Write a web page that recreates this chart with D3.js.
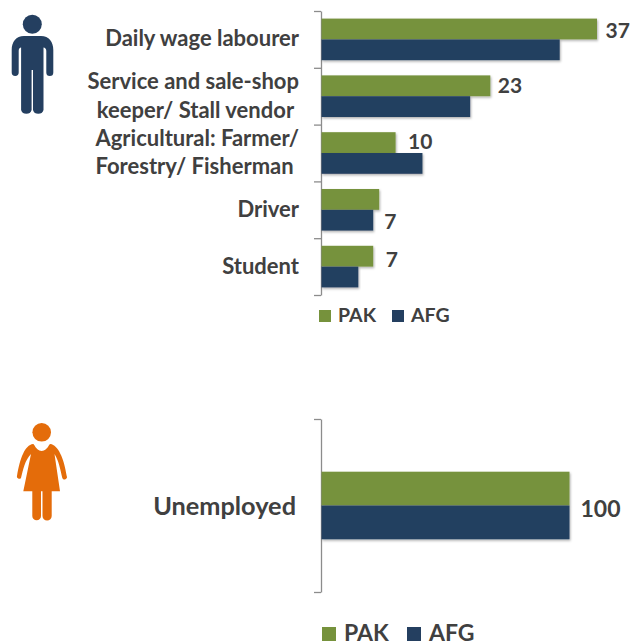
<!DOCTYPE html>
<html>
<head>
<meta charset="utf-8">
<script src="https://cdn.jsdelivr.net/npm/d3@7"></script>
<style>
  html, body { margin: 0; padding: 0; background: #fff; overflow: hidden; }
  text { font-family: Lato, "Open Sans", sans-serif; font-weight: 700; fill: #404040; }
</style>
</head>
<body>
<div id="container"></div>
<script>
/* DATA */
const seriesNames = ["PAK", "AFG"];
const maleLabels = [
  ["Daily wage labourer"],
  ["Service and sale-shop", "keeper/ Stall vendor "],
  ["Agricultural: Farmer/", "Forestry/ Fisherman "],
  ["Driver"],
  ["Student"]
];
const malePak = [37, 22.7, 10, 7.8, 7];
const maleAfg = [32, 20, 13.6, 7, 5];
const maleShown = ["37", "23", "10", "7", "7"];
const maleShownSeries = ["PAK", "PAK", "PAK", "AFG", "PAK"];
const femaleLabels = [["Unemployed"]];
const femalePak = [100];
const femaleAfg = [100];
const femaleShown = ["100"];
const femaleShownSeries = ["AFG"];

const colors = {PAK: "#76923c", AFG: "#243f60"};
const width = 630, height = 641;

const svg = d3.select("#container")
  .append("svg")
  .attr("width", width)
  .attr("height", height)
  .style("display", "block");

const shadow = svg.append("defs").append("filter")
  .attr("id", "shadow")
  .attr("x", "-5%").attr("y", "-20%")
  .attr("width", "110%").attr("height", "150%");
shadow.append("feDropShadow")
  .attr("dx", 1).attr("dy", 1.5)
  .attr("stdDeviation", 1.2)
  .attr("flood-color", "#000")
  .attr("flood-opacity", 0.3);

/* one panel: axis + bars + labels + legend */
function drawPanel(cfg) {
  const y = d3.scaleBand()
    .domain(cfg.labels.map((d, i) => i))
    .range(cfg.yRange);
  const x = d3.scaleLinear()
    .domain([0, cfg.xMax])
    .range(cfg.xRange);
  const inner = d3.scaleBand()
    .domain(seriesNames)
    .range([0, y.bandwidth()])
    .paddingOuter(cfg.outerPad)
    .paddingInner(0);

  const rows = cfg.labels.map((lines, i) => ({
    i, lines, PAK: cfg.pak[i], AFG: cfg.afg[i],
    shown: cfg.shown[i], shownSeries: cfg.shownSeries[i]
  }));

  // axis, ticks sit between the categories
  const edges = d3.scaleLinear().domain([0, rows.length]).range(cfg.yRange);
  const axis = svg.append("g")
    .attr("transform", "translate(" + cfg.xRange[0] + ",0)")
    .call(d3.axisLeft(edges).ticks(rows.length).tickSizeOuter(0).tickSizeInner(7).tickFormat(""));
  axis.selectAll("line, path").attr("stroke", "#8c8c8c").attr("stroke-width", 1.3);

  const row = svg.selectAll(null)
    .data(rows)
    .enter()
    .append("g")
    .attr("transform", d => "translate(0," + y(d.i) + ")");

  seriesNames.forEach(s => {
    row.append("rect")
      .attr("x", cfg.xRange[0] + 0.5)
      .attr("y", inner(s))
      .attr("width", d => x(d[s]) - cfg.xRange[0] - 0.5)
      .attr("height", inner.bandwidth())
      .attr("fill", colors[s])
      .attr("filter", "url(#shadow)");
  });

  row.append("text")
    .attr("x", d => x(d[d.shownSeries]) + cfg.labelGap[d.i])
    .attr("y", d => inner(d.shownSeries) + inner.bandwidth() / 2 + cfg.labelDy[d.i])
    .attr("font-size", cfg.valueSize)
    .text(d => d.shown);

  // category names, right aligned against the axis
  row.each(function(d) {
    const t = d3.select(this).append("text")
      .attr("text-anchor", "end")
      .attr("font-size", cfg.catSize)
      .attr("y", y.bandwidth() / 2 + cfg.catDy);
    d.lines.forEach((line, k) => {
      t.append("tspan")
        .attr("x", cfg.catX)
        .attr("xml:space", "preserve")
        .attr("dy", k == 0 ? (d.lines.length - 1) * -cfg.catLine / 2 : cfg.catLine)
        .text(line);
    });
  });

  // legend
  const lg = svg.append("g")
    .attr("transform", "translate(" + cfg.legendX + "," + cfg.legendY + ")");
  const step = d3.scalePoint().domain(seriesNames).range([0, cfg.legendStep]);
  seriesNames.forEach(s => {
    lg.append("rect")
      .attr("x", step(s))
      .attr("y", 0)
      .attr("width", cfg.legendBox)
      .attr("height", cfg.legendBox)
      .attr("fill", colors[s]);
    lg.append("text")
      .attr("x", step(s) + cfg.legendBox + cfg.legendPad)
      .attr("y", cfg.legendTextY)
      .attr("font-size", cfg.legendSize)
      .text(s);
  });
}

drawPanel({
  labels: maleLabels, pak: malePak, afg: maleAfg,
  shown: maleShown, shownSeries: maleShownSeries,
  yRange: [11, 295], xRange: [321, 597], xMax: 37,
  outerPad: 0.365, labelGap: [8.5, 7.5, 12.5, 11, 12.5], labelDy: [9.5, 7, 6.5, 8.8, 10.5], valueSize: 21,
  catSize: 22, catDy: 7, catX: 299, catLine: 29,
  legendX: 319, legendY: 310, legendStep: 73, legendBox: 12, legendTextY: 12,
  legendPad: 7, legendSize: 19.5
});

drawPanel({
  labels: femaleLabels, pak: femalePak, afg: femaleAfg,
  shown: femaleShown, shownSeries: femaleShownSeries,
  yRange: [419, 592], xRange: [321, 569.5], xMax: 100,
  outerPad: 1.56, labelGap: [11], labelDy: [-5.3], valueSize: 23,
  catSize: 25.3, catDy: 9, catX: 296, catLine: 29,
  legendX: 322, legendY: 627, legendStep: 85, legendBox: 14, legendTextY: 14,
  legendPad: 8, legendSize: 23
});

/* ICONS */
const man = svg.append("g").attr("fill", colors.AFG);
man.append("circle").attr("cx", 32.3).attr("cy", 24.3).attr("r", 9.5);
man.append("path").attr("d",
  "M24 36 H41 C49 36 53.3 42 53.3 50 V72.5 A3.5 3.5 0 0 1 46.3 72.5 V51 C46.3 49 45 47.5 43.5 47.5 V110" +
  " A5.5 5.5 0 0 1 33 110 V70 H31.6 V110 A5.5 5.5 0 0 1 21.1 110 V47.5 C19.6 47.5 18.7 49 18.7 51 V72.5" +
  " A3.5 3.5 0 0 1 11.7 72.5 V50 C11.7 42 16 36 24 36 Z");

const woman = svg.append("g").attr("fill", "#e46c0a");
woman.append("circle").attr("cx", 41.7).attr("cy", 432.3).attr("r", 9.3);
woman.append("path").attr("d",
  "M33 444 C35 444 35 450 41.7 451 C48.4 450 48.4 444 50.4 444 C58 445 64 458 66.7 476" +
  " A2.3 2.3 0 0 1 62.3 478 C60.5 470 58.5 460 54.5 454 L60 491.3 H51.7 V516" +
  " A4 4 0 0 1 42.5 516 V491.3 H41 V516 A4 4 0 0 1 32.3 516 V491.3 H23.3 L31 454" +
  " C25 460 23 470 21 478 A2.3 2.3 0 0 1 17 476 C20 458 25 445 33 444 Z");
</script>
</body>
</html>
